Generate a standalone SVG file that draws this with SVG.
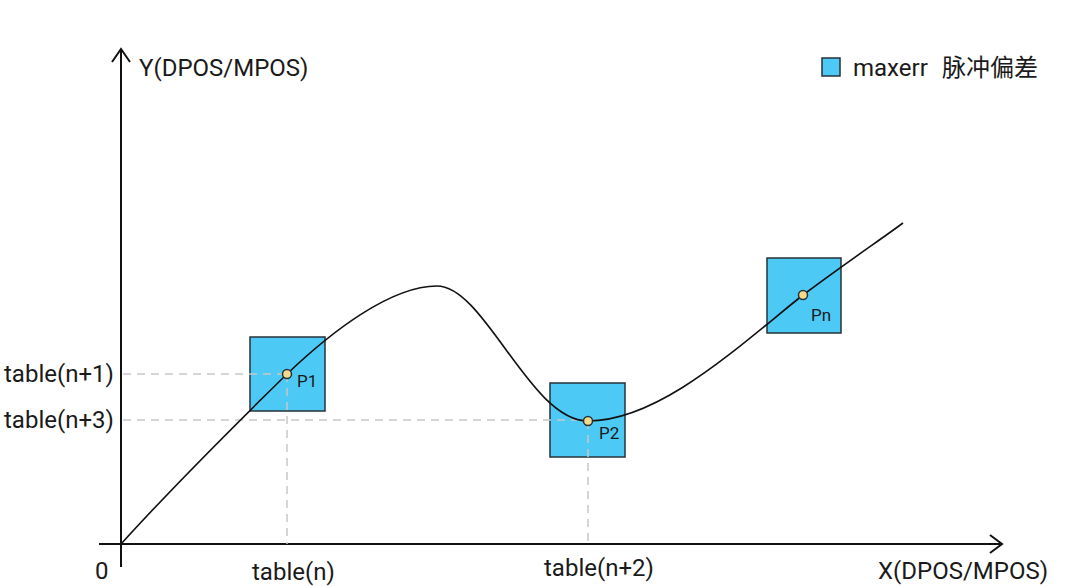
<svg xmlns="http://www.w3.org/2000/svg" width="1080" height="586" viewBox="0 0 1080 586">
  <style>
    .t { font-family: Roboto, "Noto Sans", "Noto Sans CJK SC", sans-serif; fill: #1a1a1a; }
    .big { font-size: 24px; }
    .small { font-size: 17px; }
    .box { fill: #4dc9f6; stroke: #263238; stroke-width: 1.5; }
    .pt { fill: #f3d98b; stroke: #263238; stroke-width: 1.5; }
    .axis { stroke: #111; stroke-width: 2; fill: none; }
    .dash { stroke: #c8c8c8; stroke-width: 1.5; stroke-dasharray: 8 6; fill: none; }
    .curve { stroke: #111; stroke-width: 1.6; fill: none; }
  </style>
  <rect width="1080" height="586" fill="#ffffff"/>

  <g id="axes">
    <path class="axis" d="M121,567 V49"/>
    <path class="axis" d="M112,62 L121,49 L130,62"/>
    <path class="axis" d="M99,544 H1001"/>
    <path class="axis" d="M990,535 L1002,544 L990,553"/>
  </g>

  <g id="box-p1"><rect class="box" x="250" y="337" width="75" height="74"/></g>
  <g id="box-p2"><rect class="box" x="550" y="383" width="75" height="74"/></g>
  <g id="box-pn"><rect class="box" x="767" y="258" width="74" height="75"/></g>

  <g id="guides">
    <path class="dash" d="M123,374 H287 M123,420 H588 M287,374 V544 M588,421 V544"/>
  </g>

  <g id="connectors">
    <path class="curve" d="M121,544 C170,490 240,420 287,374 C330,333 390,286 437,286 C485,286 530,421 588,421 C660,421 740,345 803,295 C850,260 880,240 903,223"/>
  </g>

  <g id="p1"><circle class="pt" cx="287" cy="374" r="4.5"/><text class="t small" x="297" y="387">P1</text></g>
  <g id="p2"><circle class="pt" cx="588" cy="421" r="4.5"/><text class="t small" x="599" y="439">P2</text></g>
  <g id="pn"><circle class="pt" cx="803" cy="295" r="4.5"/><text class="t small" x="811" y="321">Pn</text></g>

  <g id="legend">
    <rect class="box" x="822" y="58" width="18" height="18"/>
    <text class="t big" x="853" y="76">maxerr</text>
    <text class="t big" x="942" y="76">脉冲偏差</text>
  </g>

  <g id="labels">
    <text class="t big" x="139" y="76">Y(DPOS/MPOS)</text>
    <text class="t big" x="4" y="382">table(n+1)</text>
    <text class="t big" x="4" y="428">table(n+3)</text>
    <text class="t big" x="95" y="579">0</text>
    <text class="t big" x="252" y="580">table(n)</text>
    <text class="t big" x="544" y="576">table(n+2)</text>
    <text class="t big" x="878" y="579">X(DPOS/MPOS)</text>
  </g>
</svg>
